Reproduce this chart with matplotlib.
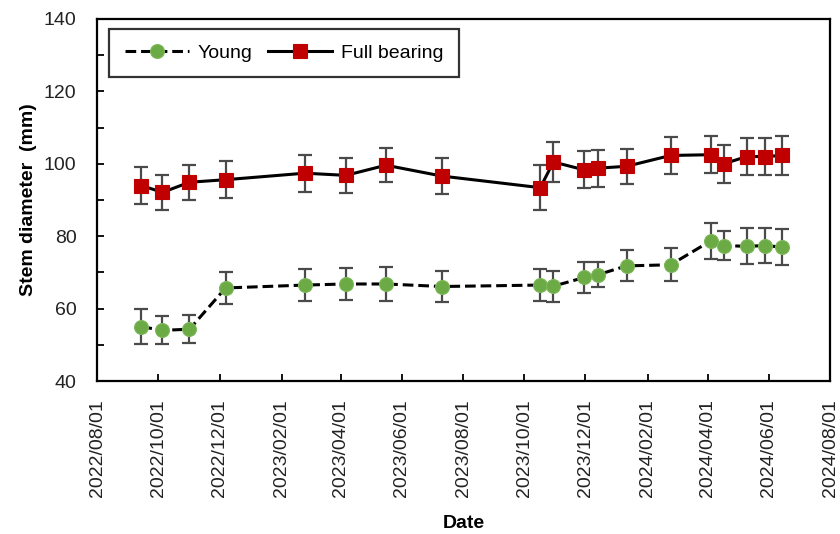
import numpy as np
import pandas as pd
import matplotlib
matplotlib.use("Agg")
import matplotlib.pyplot as plt
import matplotlib.dates as mdates
from matplotlib.ticker import MultipleLocator

plt.rcParams['font.family'] = ['Liberation Sans', 'DejaVu Sans']

# sampling dates (shared by both groups)
dates = pd.to_datetime([
    "2022-09-14", "2022-10-05", "2022-11-01", "2022-12-07", "2023-02-24",
    "2023-04-06", "2023-05-16", "2023-07-11", "2023-10-17", "2023-10-30",
    "2023-11-30", "2023-12-14", "2024-01-11", "2024-02-24", "2024-04-04",
    "2024-04-17", "2024-05-10", "2024-05-28", "2024-06-14",
])

young = [55.0, 54.0, 54.3, 65.7, 66.5, 66.8, 66.8, 66.1, 66.5, 66.2,
         68.6, 69.4, 71.8, 72.1, 78.7, 77.4, 77.2, 77.4, 77.0]
young_err = [4.8, 3.9, 3.9, 4.4, 4.5, 4.5, 4.7, 4.4, 4.5, 4.3,
             4.3, 3.4, 4.3, 4.5, 5.0, 4.1, 5.0, 4.9, 5.0]

full = [94.0, 92.1, 94.9, 95.6, 97.4, 96.8, 99.6, 96.6, 93.4, 100.5,
        98.3, 98.8, 99.3, 102.3, 102.5, 100.0, 102.0, 102.0, 102.3]
full_err = [5.0, 4.8, 4.9, 5.1, 5.1, 4.9, 4.7, 4.9, 6.2, 5.6,
            5.1, 5.1, 4.8, 5.1, 5.1, 5.2, 5.1, 5.1, 5.3]

fig = plt.figure(figsize=(8.4, 5.34), dpi=100)
ax = fig.add_axes([0.1158, 0.2865, 0.8723, 0.678])

# error bars first so the markers sit on top
ax.errorbar(dates, young, yerr=young_err, fmt='none', ecolor='#4a4a4a',
            elinewidth=1.6, capsize=5, capthick=1.6, zorder=2)
ax.errorbar(dates, full, yerr=full_err, fmt='none', ecolor='#4a4a4a',
            elinewidth=1.6, capsize=5, capthick=1.6, zorder=2)

ax.plot(dates, young, color='black', lw=2.2, dashes=(3.5, 1.6),
        marker='o', markersize=10, markerfacecolor='#6BAA44',
        markeredgecolor='#7DB85A', markeredgewidth=0.8, label='Young', zorder=3)
ax.plot(dates, full, color='black', lw=2.2, linestyle='-',
        marker='s', markersize=10, markerfacecolor='#C00000',
        markeredgecolor='#C00000', markeredgewidth=0.8, label='Full bearing', zorder=3)

ax.set_ylim(40, 140)
ax.yaxis.set_major_locator(MultipleLocator(20))
ax.yaxis.set_minor_locator(MultipleLocator(10))

ax.set_xlim(pd.Timestamp("2022-08-01"), pd.Timestamp("2024-08-01"))
ax.xaxis.set_major_locator(mdates.MonthLocator(bymonth=[2, 4, 6, 8, 10, 12], bymonthday=1))
ax.xaxis.set_major_formatter(mdates.DateFormatter('%Y/%m/%d'))

ax.tick_params(axis='both', which='both', direction='in', length=5, width=1.3,
               labelsize=14, color='black')
ax.tick_params(axis='y', which='both', pad=15)
ax.tick_params(axis='x', which='both', pad=13)
plt.setp(ax.get_xticklabels(), rotation=90, color='#222222')
plt.setp(ax.get_yticklabels(), color='#222222')

for s in ax.spines.values():
    s.set_linewidth(1.6)
    s.set_color('black')

ax.set_ylabel('Stem diameter  (mm)', fontsize=14, fontweight='bold', labelpad=5)
ax.set_xlabel('Date', fontsize=14, fontweight='bold', labelpad=13)

leg = ax.legend(loc='upper left', bbox_to_anchor=(0.016, 0.973), borderaxespad=0,
                ncol=2, fontsize=14, frameon=True, fancybox=False,
                handlelength=3.3, columnspacing=0.8, handletextpad=0.45,
                borderpad=0.8)
leg.get_frame().set_edgecolor('black')
leg.get_frame().set_linewidth(1.6)

fig.savefig('out.png', dpi=100)
